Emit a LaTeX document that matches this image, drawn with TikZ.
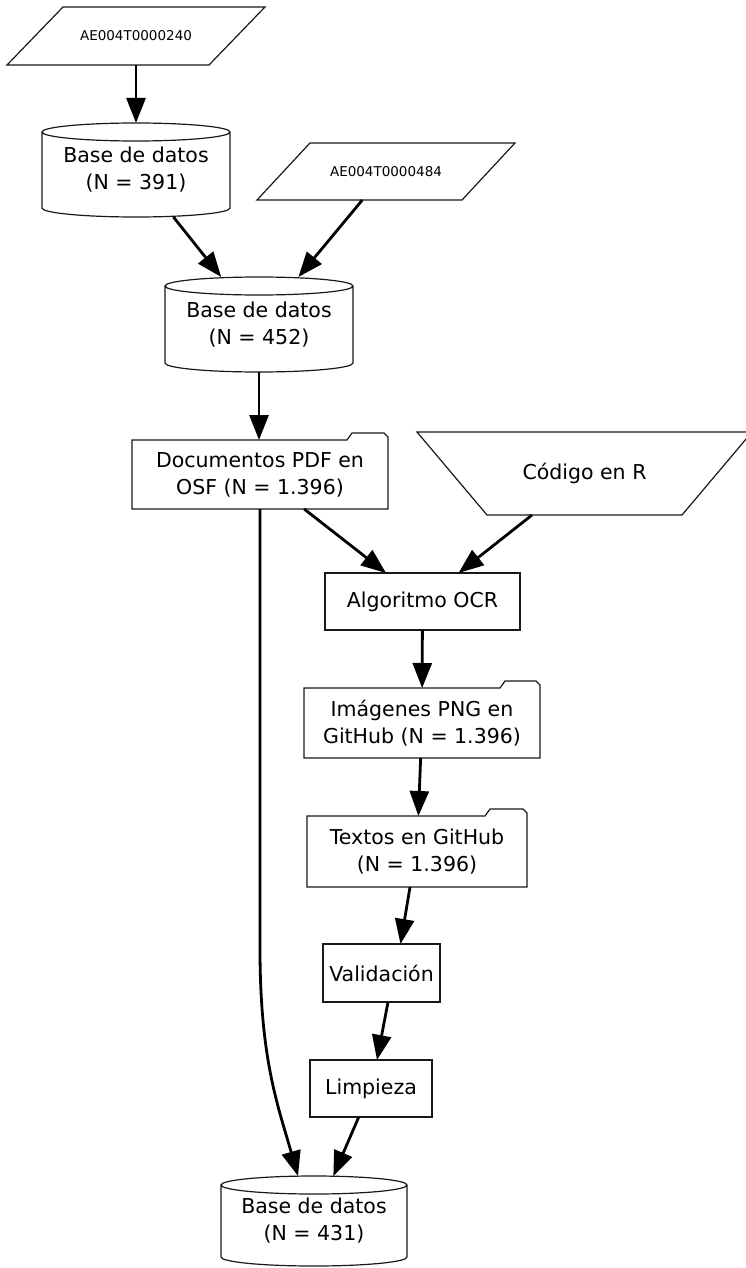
\documentclass[tikz,border=0pt]{standalone}
\usepackage{fontspec}
\setmainfont{DejaVu Sans}
\usetikzlibrary{arrows.meta}
\newcommand\mainf{\fontsize{20.5}{27}\selectfont}
\newcommand\smallf{\fontsize{13.5}{16}\selectfont}
% cylinder outline: #1 node name, #2 x radius (pt)
\newcommand\cylout[2]{%
  \draw[outl] ([yshift=-9pt]#1.north west) -- ([yshift=9pt]#1.south west)
    arc[start angle=180,end angle=360,x radius=#2pt,y radius=9pt]
    -- ([yshift=-9pt]#1.north east)
    arc[start angle=0,end angle=180,x radius=#2pt,y radius=9pt]
    arc[start angle=180,end angle=360,x radius=#2pt,y radius=9pt];}
% folder outline: #1 node name, #2 tab width (pt)
\newcommand\folderout[2]{%
  \draw[outl] (#1.south west) -- (#1.north west) -- ([xshift=-#2pt]#1.north east)
    -- ([xshift=-#2pt+5pt,yshift=7pt]#1.north east) -- ([xshift=-4pt,yshift=7pt]#1.north east)
    -- ([yshift=3pt]#1.north east) -- (#1.south east) -- cycle;}
% slanted outline (parallelogram): #1 node, #2 offset
\newcommand\paraout[2]{%
  \draw[outl] (#1.south west) -- ([xshift=-#2pt]#1.south east) -- (#1.north east)
    -- ([xshift=#2pt]#1.north west) -- cycle;}
\tikzset{
  base/.style={font=\mainf, align=center, inner sep=0pt, outer sep=0pt, text=black, rectangle},
  ghost/.style={base},
  box/.style={base, draw=black!90, line width=1.2pt},
  outl/.style={draw=black!90, line width=1.2pt, line join=miter},
  edge/.style={line width=2.8pt, draw=black, -{Triangle[length=25pt,width=19pt]}}
}
\begin{document}
\begin{tikzpicture}[x=1pt,y=-1pt]
\useasboundingbox[fill=white] (0,0) rectangle (746,1268);

\node[ghost, font=\smallf, minimum width=258pt, minimum height=58pt] (p1) at (136,36) {AE004T0000240};
\paraout{p1}{56}
\node[ghost, minimum width=188pt, minimum height=94pt] (c1) at (136,170) {Base de datos\\(N = 391)};
\cylout{c1}{94}
\node[ghost, font=\smallf, minimum width=258pt, minimum height=57pt] (p2) at (386,171.5) {AE004T0000484};
\paraout{p2}{53}
\node[ghost, minimum width=188pt, minimum height=95pt] (c2) at (259,324.5) {Base de datos\\(N = 452)};
\cylout{c2}{94}
\node[ghost, minimum width=256pt, minimum height=69pt] (doc) at (260,474.5) {Documentos PDF en\\OSF (N = 1.396)};
\folderout{doc}{41}
\node[ghost, minimum width=335pt, minimum height=83pt] (cod) at (584.5,473.5) {Código en R};
\draw[outl] (cod.north west) -- (cod.north east) -- ([xshift=-70pt]cod.south east)
  -- ([xshift=70pt]cod.south west) -- cycle;
\node[box, minimum width=195pt, minimum height=57pt] (ocr) at (422.5,601.5) {Algoritmo OCR};
\node[ghost, minimum width=236pt, minimum height=70pt] (png) at (422,723) {Imágenes PNG en\\GitHub (N = 1.396)};
\folderout{png}{40}
\node[ghost, minimum width=220pt, minimum height=71pt] (tex) at (417,851.5) {Textos en GitHub\\(N = 1.396)};
\folderout{tex}{42}
\node[box, minimum width=117pt, minimum height=58pt] (val) at (381.5,973) {Validación};
\node[box, minimum width=122pt, minimum height=57pt] (limp) at (371,1088.5) {Limpieza};
\node[ghost, minimum width=186pt, minimum height=90pt] (c3) at (314,1221) {Base de datos\\(N = 431)};
\cylout{c3}{93}

\draw[edge] (p1.south) -- (c1.north);
\draw[edge] (c1) -- (c2);
\draw[edge] (p2) -- (c2);
\draw[edge] (c2.south) -- (c2.south |- doc.north);
\draw[edge] (doc) -- (ocr);
\draw[edge] (cod) -- (ocr);
\draw[edge] (ocr) -- (png);
\draw[edge] (png) -- (tex);
\draw[edge] ([xshift=-7pt]tex.south) -- ([xshift=19pt]val.north);
\draw[edge] ([xshift=6.5pt]val.south) -- ([xshift=6pt]limp.north);
\draw[edge] (limp) -- (c3);
\draw[edge] (doc.south) -- +(0pt,-440pt) .. controls +(0pt,-110pt) and +(-20pt,70pt) .. ([xshift=-16pt]c3.north);
\end{tikzpicture}
\end{document}
